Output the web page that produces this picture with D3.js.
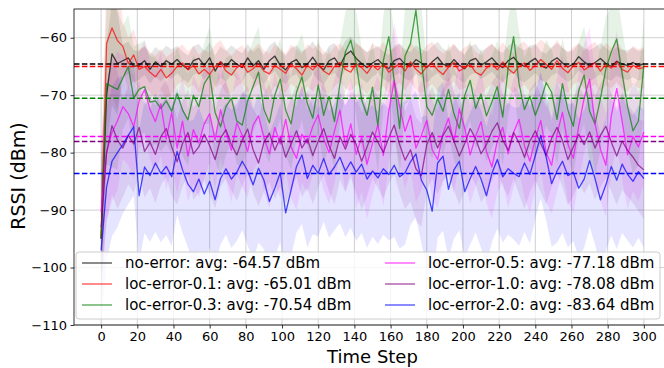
<!DOCTYPE html>
<html>
<head>
<meta charset="utf-8">
<script src="https://cdn.jsdelivr.net/npm/d3@7"></script>
<style>
  html, body { margin: 0; padding: 0; background: #fff; }
  svg { display: block; font-family: "DejaVu Sans", sans-serif; }
</style>
</head>
<body>
<svg id="chart"></svg>
<script>
// RSSI over time for several localisation-error levels.
// Means sampled every 3 steps (0..300), band half-widths every 10 steps.

const SAMPLE_EVERY = 3;
const BAND_EVERY = 10;

const NAMES = ["no-error", "loc-error-0.1", "loc-error-0.3", "loc-error-0.5", "loc-error-1.0", "loc-error-2.0"];
const AVGS  = [-64.57, -65.01, -70.54, -77.18, -78.08, -83.64];

const NO_ERROR = [
  -95, -70, -62.8, -64.5, -64, -63.5, -65, -64.8, -64, -65.5,
  -64.2, -65, -64, -64.6, -63.8, -64.8, -65.5, -64, -63.6, -64.8,
  -63.5, -65.8, -64.2, -65, -63.8, -64.6, -65.2, -63.5, -64.9, -64,
  -65.5, -64, -63.2, -64.8, -65.6, -64.3, -63.8, -65.2, -64.6, -63.4,
  -64.8, -65.6, -64, -63.5, -64.9, -63, -62.3, -63.6, -64.5, -65.2,
  -64.4, -63.8, -64.8, -65.4, -64, -63.6, -64.6, -65, -63.8, -64.4,
  -65.2, -64.2, -63.4, -64.6, -65, -63.8, -64.8, -65.4, -64, -63.6,
  -64.8, -64.2, -63.5, -64.6, -65.2, -64, -63.4, -64.5, -65, -64.2,
  -63.6, -64.8, -65.3, -64.1, -63.5, -64.4, -65.1, -64.6, -63.3, -64.2,
  -64.9, -64.3, -63.6, -64.5, -65, -64.1, -64.6, -64.8, -64.3, -64.9, -64.5
];
const LOC_01 = [
  -95, -61, -58.3, -60.5, -61.5, -64.5, -63, -65.5, -65, -66,
  -66.8, -65.5, -67, -66.2, -65, -64.4, -65.6, -64.8, -66.3, -65.5,
  -66.4, -65, -64.2, -65.8, -66.5, -65.2, -64.6, -66, -65.4, -64.5,
  -65.8, -66.3, -64.8, -65.5, -66.2, -64.6, -65.4, -66.5, -64.8, -65.6,
  -64.5, -65.8, -66.4, -65, -64.3, -65.5, -66, -64.5, -65.2, -66.2,
  -64.8, -65.6, -64.6, -66, -65.2, -64.5, -65.8, -64.2, -65.5, -66.3,
  -65, -64.4, -65.6, -66.4, -65.1, -64.3, -65.8, -65.2, -64.7, -66,
  -66.5, -65.3, -64.5, -65.6, -64.2, -65.4, -66.2, -65, -64.4, -65.7,
  -64.8, -63.8, -64.6, -65.5, -64, -65.3, -66.1, -64.9, -64.3, -65.6,
  -65, -64.4, -65.8, -64.6, -65.3, -64.2, -65.5, -66, -64.8, -65.4, -65.2
];
const LOC_03 = [
  -95, -68, -68.5, -69, -67, -65, -70.5, -69, -68.5, -71.2,
  -71, -72.3, -71, -72.8, -69.7, -72.6, -74.3, -70, -72, -68,
  -66.5, -73, -75.5, -72, -70.5, -74.5, -75.2, -71, -68.5, -66,
  -72.5, -74.8, -70, -67.2, -72.6, -75, -69.5, -66.8, -71.5, -74,
  -68.2, -73.5, -70.2, -74.6, -68, -62.5, -60.4, -64.5, -70.8, -73.5,
  -68.6, -75.4, -64, -59.8, -67.5, -75.8, -63.2, -61, -55.2, -64,
  -72, -73.5, -70.6, -72.8, -69, -73.2, -75.8, -70, -67.4, -72.3,
  -69.8, -73.6, -71.2, -68.5, -73.8, -65.2, -59.8, -68, -72.5, -70.2,
  -73.5, -71, -67.8, -69.5, -74.2, -68, -72.6, -75.4, -69.2, -66.5,
  -72.8, -75, -70.6, -65.4, -62.5, -60.2, -66.3, -72, -76.2, -74.5, -64.8
];
const LOC_05 = [
  -90.3, -80, -76.5, -74.5, -72, -73.2, -75.5, -71, -69, -72.5,
  -74.6, -71.5, -77.6, -73, -79.2, -74.5, -80.6, -76, -78.3, -75,
  -73.2, -77.8, -72.5, -76.4, -79.6, -74.8, -77, -79.8, -75.2, -73.6,
  -77.4, -80.2, -75.6, -78.5, -74.2, -79, -81, -76.8, -78.4, -75.4,
  -73.4, -77.6, -80, -76.2, -72.6, -78.8, -75, -80.3, -77.3, -82,
  -78.4, -75.2, -80.5, -72.8, -67.5, -72, -76.3, -73.5, -79.2, -77,
  -74.4, -79.5, -81.2, -76.6, -74, -78.2, -72.4, -75.8, -80.4, -77.2,
  -74.6, -79.8, -82.5, -78, -75.6, -80.2, -76.5, -74.2, -78.8, -81.5,
  -77.6, -74.4, -80, -82.2, -76.8, -73, -78.5, -81, -75.4, -70.5,
  -67.2, -75, -79.4, -82.2, -73.6, -68.8, -74.6, -80.4, -77.2, -79, -76.4
];
const LOC_10 = [
  -93, -80, -75.3, -77.8, -79.2, -77, -78.5, -75.6, -79.8, -78.2,
  -80.3, -77.2, -75.8, -79, -81.6, -78.4, -76.5, -80.2, -79, -76.8,
  -78.8, -81.2, -77.5, -76, -78.6, -80.4, -77.8, -75.9, -79.5, -81.8,
  -78.2, -76.6, -79.6, -77.4, -80.8, -78.5, -76.2, -79.2, -77.6, -80.5,
  -78, -75.8, -78.8, -81, -77.2, -79.4, -76.8, -78.6, -81.5, -79,
  -76.4, -78.2, -80, -77.4, -75.2, -78.6, -81.3, -79.5, -82.8, -84,
  -78.6, -76.5, -79.2, -77, -75.4, -78, -80.6, -78.4, -75.8, -77.6,
  -80.2, -78.6, -76.3, -74.8, -77.8, -79.6, -76.5, -78.3, -80.8, -78,
  -76.2, -78.4, -80.5, -77.5, -75.6, -77.9, -81.2, -79, -76.8, -78.6,
  -76.4, -79.2, -77, -75.4, -78.2, -80.6, -78, -79.6, -80.8, -82.2, -83
];
const LOC_20 = [
  -97, -86, -81.5, -80, -78.6, -77, -75.5, -87.5, -82.5, -84,
  -81.8, -83.6, -82.4, -84.2, -79.8, -83, -85.5, -86.8, -84.6, -87.2,
  -85, -88.2, -84.5, -82.8, -84.6, -83.4, -81.5, -83.2, -85.6, -82.7,
  -84.8, -88.5, -86.2, -83.5, -90.5, -86.5, -82.4, -80.4, -84.5, -82.2,
  -83.6, -81, -83.8, -82.5, -80.8, -83.2, -81.6, -83.4, -82, -84.6,
  -83.2, -84.4, -82.8, -83.8, -82.2, -84.2, -83.5, -81.6, -80.2, -84.8,
  -86.5, -90.2, -81.8, -80.6, -86.4, -83, -81.5, -86.8, -84.5, -82.4,
  -84.6, -87.5, -83.6, -81.2, -84.2, -82.8, -83.6, -84.2, -81.8, -83.8,
  -80.5, -77, -80.8, -85.4, -83.2, -81.5, -84, -83.4, -86.2, -84.6,
  -81.4, -84.5, -88.2, -85.6, -82.4, -84.8, -82, -83.8, -85, -83.3, -84.5
];

// spread (half-width of shaded band), one value per 10 steps
const SPREAD_NO_ERROR = [9, 2.8, 2.5, 2.6, 2.4, 2.5, 2.7, 2.5, 2.4, 2.6, 2.5, 2.8, 2.6, 2.5, 2.7, 2.4, 2.6, 2.5, 2.7, 2.6, 2.5, 2.4, 2.6, 2.8, 2.5, 2.6, 2.4, 2.7, 2.5, 2.6, 2.5];
const SPREAD_01 = [12, 4.5, 3.5, 3.6, 3.2, 3.4, 3.8, 3.3, 3.5, 3.6, 3.4, 3.7, 3.5, 3.3, 3.6, 3.8, 3.4, 3.5, 3.7, 3.3, 3.6, 3.5, 3.4, 3.8, 3.5, 3.6, 3.3, 3.7, 3.5, 3.4, 3.6];
const SPREAD_03 = [14, 9, 8, 7.5, 8, 7, 8.5, 7.5, 8, 7, 8, 7.5, 8.5, 7, 9, 8, 8.5, 9.5, 7.5, 8, 7, 8, 8.5, 9, 7.5, 8, 8.5, 9, 8, 7.5, 8];
const SPREAD_05 = [12, 9, 8.5, 9, 8, 9.5, 8.5, 9, 8, 9.5, 9, 8.5, 9, 8, 9.5, 9, 10, 9.5, 8.5, 9, 8.5, 9, 9.5, 9, 8.5, 10, 9.5, 9, 10, 9.5, 9];
const SPREAD_10 = [12, 8.5, 8, 8.5, 7.5, 8, 8.5, 8, 7.5, 8.5, 8, 8.5, 8, 7.5, 8.5, 8, 8.5, 9, 8, 8.5, 8, 8.5, 8, 9, 8.5, 8, 8.5, 9, 8.5, 8, 8.5];
const SPREAD_20 = [13, 12, 11.5, 12, 11, 12.5, 11.5, 12, 13, 12, 11.5, 12, 11, 11.5, 12, 11.5, 12.5, 11, 13, 12, 11.5, 12, 11.5, 12, 11, 12.5, 12, 11.5, 12, 11.5, 12];

const X_TICKS = d3.range(0, 301, 20);
const Y_TICKS = [-110, -100, -90, -80, -70, -60];

(function () {
  const W = 664, H = 368;
  const M = { top: 9, left: 74, bottom: 43, right: -7 };  // axes box runs past the right edge
  const innerW = W - M.left - M.right;
  const innerH = H - M.top - M.bottom;

  const COLORS = ["#000000", "#ff0000", "#008000", "#ff00ff", "#800080", "#0000ff"];
  const MEANS = [NO_ERROR, LOC_01, LOC_03, LOC_05, LOC_10, LOC_20];
  const SPREADS = [SPREAD_NO_ERROR, SPREAD_01, SPREAD_03, SPREAD_05, SPREAD_10, SPREAD_20];

  const series = NAMES.map((name, k) => ({
    name: name,
    avg: AVGS[k],
    color: COLORS[k],
    points: MEANS[k].map((v, i) => {
      const t = i * SAMPLE_EVERY;
      const s = SPREADS[k][Math.min(Math.floor(t / BAND_EVERY), SPREADS[k].length - 1)];
      return { t: t, v: v, lo: v - s, hi: v + s };
    })
  }));

  const svg = d3.select("#chart").attr("width", W).attr("height", H);
  svg.append("rect").attr("width", W).attr("height", H).attr("fill", "#fff");

  const x = d3.scaleLinear().domain([-15, 315]).range([0, innerW]);
  const y = d3.scaleLinear().domain([-110, -55]).range([innerH, 0]);

  const g = svg.append("g").attr("transform", `translate(${M.left},${M.top})`);

  svg.append("defs").append("clipPath").attr("id", "plot-clip")
    .append("rect").attr("width", innerW).attr("height", innerH);

  // grid
  const grid = g.append("g").attr("stroke", "#b0b0b0").attr("stroke-width", 0.8).attr("stroke-opacity", 0.75);
  X_TICKS.forEach(t => grid.append("line")
    .attr("x1", x(t)).attr("x2", x(t)).attr("y1", 0).attr("y2", innerH));
  Y_TICKS.forEach(t => grid.append("line")
    .attr("x1", 0).attr("x2", innerW).attr("y1", y(t)).attr("y2", y(t)));

  const plot = g.append("g").attr("clip-path", "url(#plot-clip)");

  const area = d3.area().x(d => x(d.t)).y0(d => y(d.lo)).y1(d => y(d.hi));
  const line = d3.line().x(d => x(d.t)).y(d => y(d.v));

  series.forEach(s => {
    plot.append("path")
      .datum(s.points)
      .attr("fill", s.color)
      .attr("fill-opacity", 0.1)
      .attr("d", area);
  });

  series.forEach(s => {
    plot.append("path")
      .datum(s.points)
      .attr("fill", "none")
      .attr("stroke", s.color)
      .attr("stroke-opacity", 0.7)
      .attr("stroke-width", 1.3)
      .attr("stroke-linejoin", "round")
      .attr("d", line);

    plot.append("line")
      .attr("x1", 0).attr("x2", innerW)
      .attr("y1", y(s.avg)).attr("y2", y(s.avg))
      .attr("stroke", s.color)
      .attr("stroke-width", 1.5)
      .attr("stroke-dasharray", "5.5,2.4");
  });

  // axes
  const xAxis = g.append("g")
    .attr("transform", `translate(0,${innerH})`)
    .call(d3.axisBottom(x).tickValues(X_TICKS).tickSize(3.5).tickPadding(3.5));
  const yAxis = g.append("g")
    .call(d3.axisLeft(y).tickValues(Y_TICKS).tickSize(3.5).tickPadding(3.5)
      .tickFormat(d => "\u2212" + Math.abs(d)));
  [xAxis, yAxis].forEach(a => {
    a.select(".domain").remove();
    a.selectAll("line").attr("stroke", "#000").attr("stroke-width", 0.8);
    a.selectAll("text").attr("font-size", 13).attr("fill", "#000")
      .attr("font-family", "DejaVu Sans, sans-serif");
  });

  // spines
  g.append("rect")
    .attr("width", innerW).attr("height", innerH)
    .attr("fill", "none").attr("stroke", "#000").attr("stroke-width", 0.8);

  // axis labels
  svg.append("text")
    .attr("x", M.left + x(150)).attr("y", 363)
    .attr("text-anchor", "middle")
    .attr("font-size", 18)
    .text("Time Step");
  svg.append("text")
    .attr("transform", `translate(25,${M.top + innerH / 2 + 9}) rotate(-90)`)
    .attr("text-anchor", "middle")
    .attr("font-size", 19)
    .text("RSSI (dBm)");

  // legend
  const lg = svg.append("g").attr("transform", "translate(76,252)");
  lg.append("rect")
    .attr("width", 584).attr("height", 67)
    .attr("rx", 3)
    .attr("fill", "#fff").attr("fill-opacity", 0.8)
    .attr("stroke", "#cccccc").attr("stroke-width", 1);

  series.forEach((s, k) => {
    const col = Math.floor(k / 3), row = k % 3;
    const item = lg.append("g")
      .attr("transform", `translate(${col === 0 ? 6 : 309},${11 + row * 21})`);
    item.append("line")
      .attr("x1", 0).attr("x2", 30)
      .attr("stroke", s.color).attr("stroke-opacity", 0.7).attr("stroke-width", 1.3);
    item.append("text")
      .attr("x", 43).attr("dy", "0.35em")
      .attr("font-size", 15)
      .text(`${s.name}: avg: ${s.avg.toFixed(2)} dBm`);
  });
})();
</script>
</body>
</html>
